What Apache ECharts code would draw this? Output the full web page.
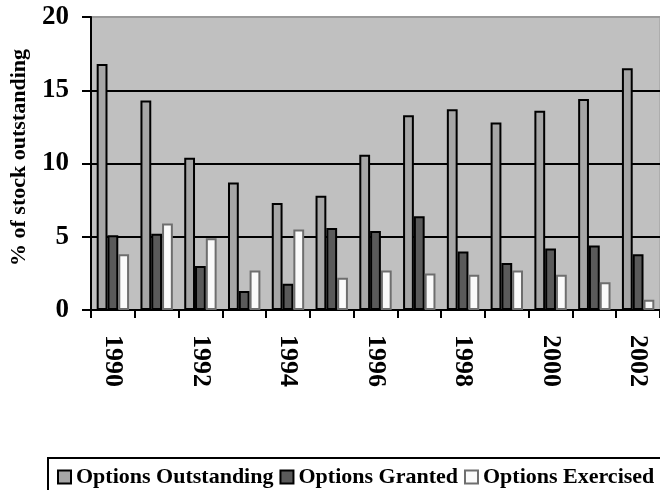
<!DOCTYPE html>
<html>
<head>
<meta charset="utf-8">
<script src="https://cdn.jsdelivr.net/npm/echarts@6/dist/echarts.min.js"></script>
<style>html,body{margin:0;padding:0;background:#fff;}#c{width:660px;height:490px;}</style>
</head>
<body>
<div id="c"></div>
<script>
var years = ['1990','1991','1992','1993','1994','1995','1996','1997','1998','1999','2000','2001','2002'];
var outstanding = [16.8, 14.3, 10.4, 8.7, 7.3, 7.8, 10.6, 13.3, 13.7, 12.8, 13.6, 14.4, 16.5];
var granted = [5.1, 5.2, 3.0, 1.3, 1.8, 5.6, 5.4, 6.4, 4.0, 3.2, 4.2, 4.4, 3.8];
var exercised = [3.8, 5.9, 4.9, 2.7, 5.5, 2.2, 2.7, 2.5, 2.4, 2.7, 2.4, 1.9, 0.7];
var yTicks = [0, 5, 10, 15, 20];
var seriesNames = ['Options Outstanding', 'Options Granted', 'Options Exercised'];
var yTitle = '% of stock outstanding';

var serif = '"Liberation Serif", "Times New Roman", serif';
var chart = echarts.init(document.getElementById('c'), null, {renderer: 'canvas'});
chart.setOption({
  animation: false,
  backgroundColor: '#ffffff',
  grid: {
    left: 91, top: 17, right: -8, bottom: 180,
    show: true, backgroundColor: '#c0c0c0', borderColor: '#9a9a9a', borderWidth: 1
  },
  legend: {
    data: seriesNames,
    left: 48, top: 458, width: 660,
    orient: 'horizontal',
    padding: [8, 30, 8, 9],
    itemWidth: 13, itemHeight: 13, itemGap: 6,
    borderColor: '#000', borderWidth: 2,
    icon: 'rect',
    textStyle: {fontFamily: serif, fontWeight: 'bold', fontSize: 22, color: '#000'}
  },
  graphic: [{
    type: 'text',
    x: 19, y: 157.5,
    rotation: Math.PI / 2,
    style: {
      text: yTitle,
      fontFamily: serif, fontWeight: 'bold', fontSize: 22,
      fill: '#000', align: 'center', verticalAlign: 'middle'
    }
  }],
  xAxis: {
    type: 'category',
    data: years,
    axisLine: {lineStyle: {color: '#000', width: 2}},
    axisTick: {show: true, interval: 0, length: 8, lineStyle: {color: '#000', width: 2}},
    axisLabel: {
      interval: 1, rotate: -90, margin: 25,
      fontFamily: serif, fontWeight: 'bold', fontSize: 26, color: '#000'
    },
    splitLine: {show: false}
  },
  yAxis: {
    type: 'value',
    min: yTicks[0], max: yTicks[yTicks.length - 1], interval: 5,
    axisLine: {show: true, lineStyle: {color: '#000', width: 2}},
    axisTick: {show: true, length: 9, lineStyle: {color: '#000', width: 2}},
    axisLabel: {margin: 22, fontFamily: serif, fontWeight: 'bold', fontSize: 27, color: '#000'},
    splitLine: {show: true, lineStyle: {color: ['#000', '#000', '#000', '#000', '#9a9a9a'], width: 2}}
  },
  series: [
    {
      name: seriesNames[0], type: 'bar', data: outstanding,
      barGap: '0%', barCategoryGap: '26%',
      itemStyle: {color: '#a6a6a6', borderColor: '#000', borderWidth: 2}
    },
    {
      name: seriesNames[1], type: 'bar', data: granted,
      barGap: '0%', barCategoryGap: '26%',
      itemStyle: {color: '#5a5a5a', borderColor: '#000', borderWidth: 2}
    },
    {
      name: seriesNames[2], type: 'bar', data: exercised,
      barGap: '0%', barCategoryGap: '26%',
      itemStyle: {color: '#fafafa', borderColor: '#6e6e6e', borderWidth: 2}
    }
  ]
});
</script>
</body>
</html>
